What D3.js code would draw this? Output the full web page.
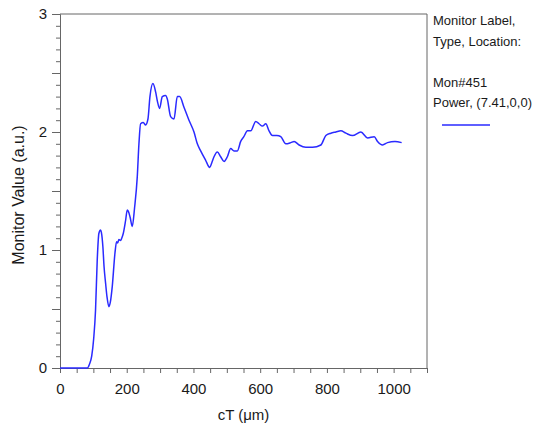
<!DOCTYPE html>
<html>
<head>
<meta charset="utf-8">
<script src="https://cdn.jsdelivr.net/npm/d3@7"></script>
<style>
  body { margin: 0; background: #fff; }
  text { font-family: "Liberation Sans", Arial, sans-serif; fill: #1a1a1a; }
</style>
</head>
<body>
<div id="chart"></div>
<script>
// cT (um) sample positions and monitor values
const ctValues = [0, 40, 82, 88, 95, 101, 106.5, 111.6, 116.5, 121.5, 124, 128.5, 132, 136.6, 141, 146.6, 151, 156.6,
  164.6, 169.6, 173, 176.6, 181.6, 185, 189.6, 196.6, 201.6, 204.6, 210, 216.6, 223.6, 231.6, 236.6, 241.6,
  249.6, 256.6, 263.6, 269.6, 278.6, 286.6, 292, 298.6, 306.6, 316.6, 321.6, 331.6, 341.6, 351.6, 358.6,
  371.6, 386.6, 401.6, 411.6, 421.6, 436.6, 448.6, 455, 461.6, 471.6, 481.6, 491.6, 501.6, 511.6, 521.6,
  531.6, 541.6, 551, 561.8, 571.8, 586.8, 596.6, 606.8, 616.8, 626.6, 636.8, 650, 661.7, 676.8, 691.8,
  701.7, 716.7, 736.8, 756.9, 781.8, 796.8, 811.8, 826.8, 841.8, 856.8, 876.9, 901.8, 922, 941.8, 951.8,
  966.8, 981.8, 1004, 1024]
const monitorValues = [0, 0, 0, 0.03, 0.1, 0.25, 0.49, 0.915, 1.14, 1.17, 1.15, 1.03, 0.86, 0.72, 0.6, 0.52, 0.56, 0.69,
  0.97, 1.07, 1.06, 1.09, 1.08, 1.1, 1.14, 1.25, 1.34, 1.33, 1.28, 1.2, 1.36, 1.62, 1.9, 2.07,
  2.08, 2.06, 2.11, 2.3, 2.41, 2.34, 2.26, 2.2, 2.3, 2.31, 2.28, 2.13, 2.11, 2.3, 2.3,
  2.21, 2.1, 2.0, 1.9, 1.84, 1.76, 1.7, 1.74, 1.79, 1.83, 1.79, 1.75, 1.79, 1.86, 1.84,
  1.84, 1.92, 1.96, 2.01, 2.01, 2.09, 2.07, 2.05, 2.07, 2.01, 1.97, 1.97, 1.96, 1.9, 1.91,
  1.92, 1.89, 1.87, 1.87, 1.89, 1.97, 1.99, 2.0, 2.01, 1.99, 1.97, 2.0, 1.95, 1.96, 1.92,
  1.89, 1.91, 1.92, 1.91]
const xTickLabels = [0, 200, 400, 600, 800, 1000]
const yTickLabels = [0, 1, 2, 3]
const legendLines = ["Monitor Label,", "Type, Location:", "", "Mon#451", "Power, (7.41,0,0)"]

const width = 540, height = 432
const margin = { top: 14, right: 113, bottom: 64, left: 60 }

const svg = d3.select("#chart").append("svg")
    .attr("width", width)
    .attr("height", height)

const x = d3.scaleLinear().domain([0, 1100]).range([margin.left, width - margin.right])
const y = d3.scaleLinear().domain([0, 3]).range([height - margin.bottom, margin.top])

const axisColor = "#666"

// frame: top and right lines
svg.append("path")
    .attr("d", `M${x(0)},${y(3)}H${x(1100)}V${y(0)}`)
    .attr("fill", "none")
    .attr("stroke", axisColor)
    .attr("stroke-width", 1)

// x axis, tick every 50, labels every 200
const xAxis = d3.axisBottom(x)
    .tickValues(d3.range(0, 1101, 50))
    .tickSize(5)
    .tickSizeOuter(0)
    .tickFormat(d => xTickLabels.includes(d) ? d : "")
const gx = svg.append("g")
    .attr("transform", `translate(0,${y(0)})`)
    .call(xAxis)
gx.selectAll("text").style("font-size", "15px").attr("y", 12).attr("dy", "0.9em")

// y axis, minor ticks every 0.1, long ticks every 0.5
const yMinor = d3.range(0, 31).map(i => i / 10)
const gy = svg.append("g")
    .attr("transform", `translate(${x(0)},0)`)
    .call(d3.axisLeft(y).tickValues(yMinor).tickSizeOuter(0)
        .tickSize(4)
        .tickFormat(d => {
            let v = Math.round(d * 10) / 10
            return yTickLabels.includes(v) ? v : ""
        }))
gy.selectAll(".tick line")
    .attr("x2", d => (Math.round(d * 10) % 5 === 0) ? -8 : -4)
gy.selectAll("text").style("font-size", "15px").attr("x", -13)

svg.selectAll(".domain, .tick line").attr("stroke", axisColor)

// axis titles
svg.append("text")
    .attr("x", (x(0) + x(1100)) / 2)
    .attr("y", 420)
    .attr("text-anchor", "middle")
    .style("font-size", "15px")
    .text("cT (\u03bcm)")

svg.append("text")
    .attr("transform", `translate(24,195) rotate(-90)`)
    .attr("text-anchor", "middle")
    .style("font-size", "16px")
    .text("Monitor Value (a.u.)")

// the curve
const points = ctValues.map((c, i) => [c, monitorValues[i]])
const line = d3.line()
    .x(d => x(d[0]))
    .y(d => y(d[1]))
    .curve(d3.curveMonotoneX)
svg.append("path")
    .datum(points)
    .attr("fill", "none")
    .attr("stroke", "#2a2aff")
    .attr("stroke-width", 1.5)
    .attr("d", line)

// legend
const legend = svg.append("g").attr("transform", "translate(433,0)")
legend.selectAll("text")
    .data(legendLines)
    .enter()
    .append("text")
    .attr("x", 0)
    .attr("y", (d, i) => 25 + i * 20.6)
    .style("font-size", "13px")
    .text(d => d)
legend.append("line")
    .attr("x1", 9).attr("x2", 57)
    .attr("y1", 125).attr("y2", 125)
    .attr("stroke", "#2a2aff")
    .attr("stroke-width", 1.3)
</script>
</body>
</html>
